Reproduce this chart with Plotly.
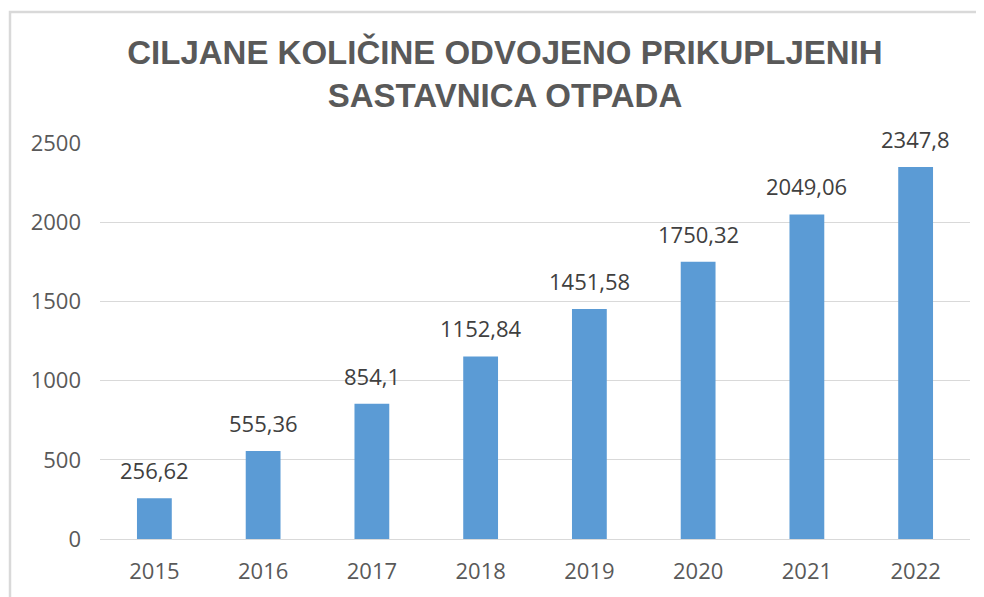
import plotly.graph_objects as go

years = ["2015", "2016", "2017", "2018", "2019", "2020", "2021", "2022"]
values = [256.62, 555.36, 854.1, 1152.84, 1451.58, 1750.32, 2049.06, 2347.8]
labels = [str(v).replace(".", ",") for v in values]
y_ticks = [0, 500, 1000, 1500, 2000, 2500]

title_text = "CILJANE KOLIČINE ODVOJENO PRIKUPLJENIH<br>SASTAVNICA OTPADA"

# page has an 8px body margin, so figure is sized to fit the window
W, H = 976, 589

fig = go.Figure()
fig.add_trace(go.Bar(
    x=years, y=values,
    marker=dict(color="#5B9BD5", line=dict(width=0)),
    width=0.32,
    hoverinfo="skip",
))

# value labels (category axis -> use category index for annotations)
for i, (v, lab) in enumerate(zip(values, labels)):
    fig.add_annotation(
        x=i, y=v, text=lab, showarrow=False,
        yanchor="bottom", xanchor="center", yshift=11,
        font=dict(family="Open Sans", size=22, color="#404040"),
    )

# outer chart border (top and left visible)
fig.add_shape(
    type="rect", xref="paper", yref="paper",
    x0=(2 - 92) / 870, x1=1.2, y0=-0.3, y1=(531 - 4) / 396,
    line=dict(color="#D9D9D9", width=2.5), fillcolor="rgba(0,0,0,0)",
    layer="below",
)

fig.update_layout(
    width=W, height=H,
    margin=dict(l=92, r=14, t=135, b=58),
    paper_bgcolor="white", plot_bgcolor="white",
    showlegend=False,
    title=dict(
        text=title_text,
        x=497 / W, xref="container", xanchor="center",
        y=1 - 56 / H, yref="container", yanchor="top",
        font=dict(family="Liberation Sans", size=33, color="#595959", weight="bold"),
    ),
    xaxis=dict(
        type="category", showgrid=False, showline=False, zeroline=False,
        ticks="", ticklabelstandoff=17,
        tickfont=dict(family="Open Sans", size=22, color="#595959"),
    ),
    yaxis=dict(
        range=[0, 2500], tickvals=y_ticks, ticktext=[str(t) for t in y_ticks],
        showgrid=True, gridcolor="#D9D9D9", gridwidth=1.2,
        zeroline=True, zerolinecolor="#D9D9D9", zerolinewidth=1.2,
        showline=False, ticks="", ticklabelstandoff=18,
        tickfont=dict(family="Open Sans", size=22, color="#595959"),
    ),
)

fig.write_html("out.html", config={"displayModeBar": False})
